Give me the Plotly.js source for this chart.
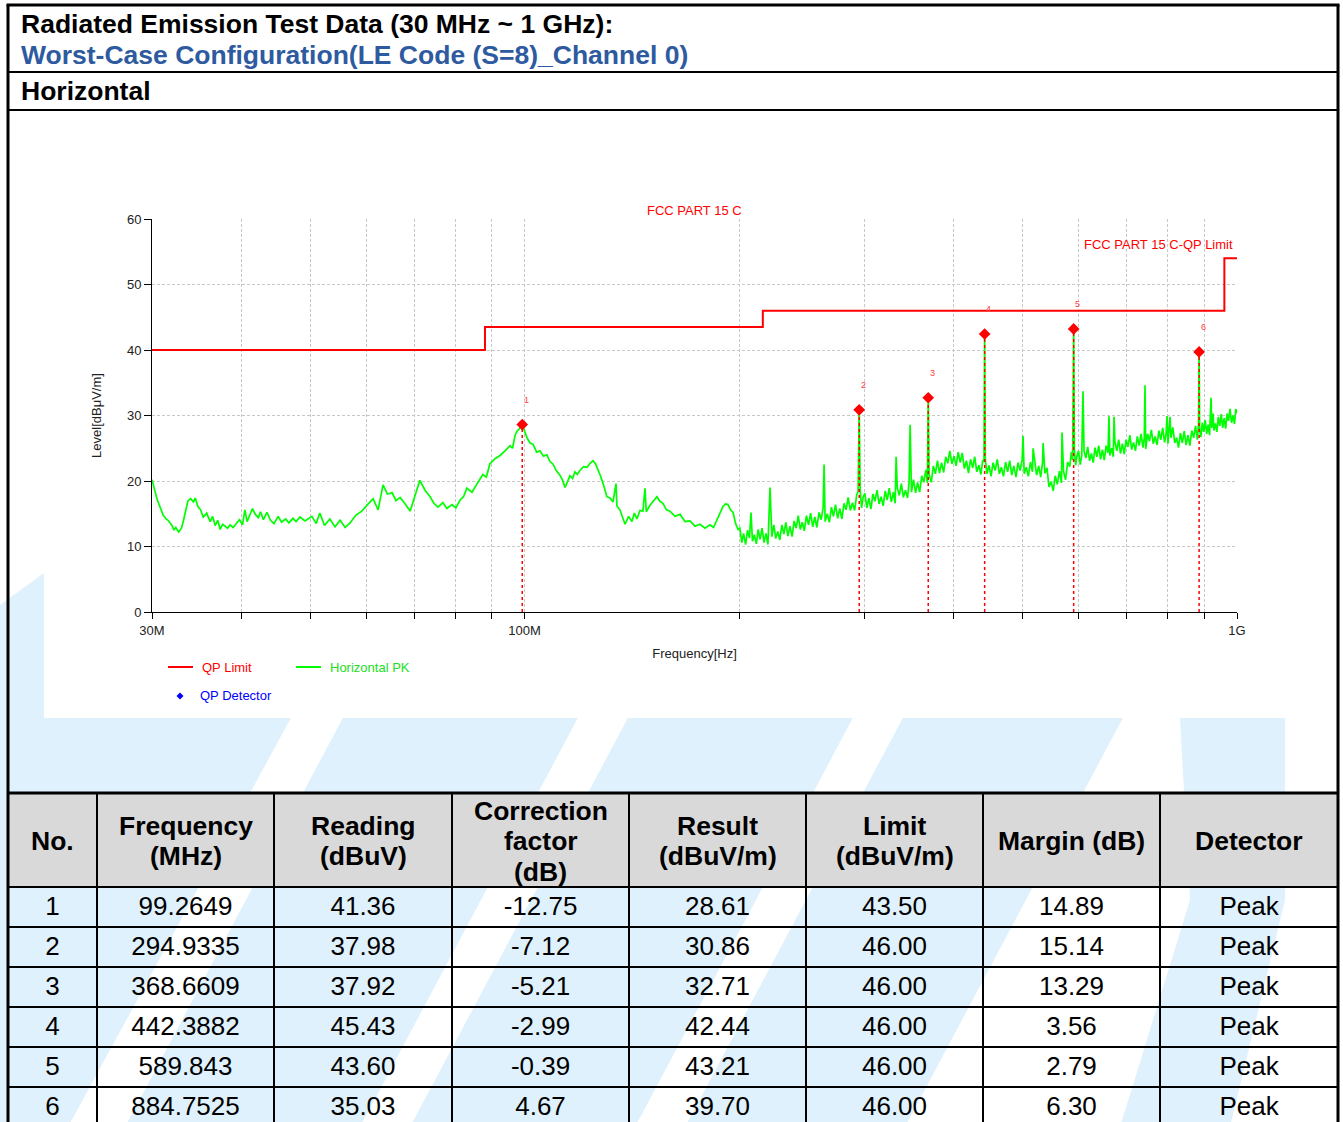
<!DOCTYPE html>
<html><head><meta charset="utf-8">
<script src="https://cdn.plot.ly/plotly-3.0.1.min.js"></script>
<style>html,body{margin:0;padding:0;background:#fff;overflow:hidden}#wrap{width:1343px;height:1122px;overflow:hidden}#chart{width:1343px;height:1127px}</style>
</head><body><div id="wrap"><div id="chart"></div></div>
<script>
// ---------- data ----------
const limitFreq = [30, 88, 216, 960, 1000];
const limitLevel = [40, 43.5, 46, 54, 54];

const pkFreq = [
 30,30.1,30.3,30.5,30.8,31.1,31.4,31.6,31.8,32.0,32.2,32.4,32.7,33.0,33.2,33.4,33.7,34.0,34.3,34.5,34.8,35.1,35.4,35.8,36.2,36.5,36.8,37.1,37.4,37.7,38.0,38.3,38.6,39.0,39.4,39.8,40.2,40.5,40.8,41.2,41.5,41.9,42.3,42.6,43.0,43.5,44.0,44.5,45.1,45.6,46.2,46.7,47.3,47.8,48.4,
 49.2,50.3,51.0,51.6,52.4,53.3,54.2,55.1,56.0,56.9,58.0,59.1,60.2,61.3,62.3,63.3,64.2,65.2,66.0,66.9,68.0,69.1,70.2,71.3,72.5,73.7,74.6,75.6,76.8,77.8,79.1,80.1,81.2,82.1,83.0,84.4,85.8,86.6,87.4,88.4,89.4,90.9,92.4,93.9,95.4,96.2,97.0,97.6,98.4,99.26,
 100.0,100.8,101.8,102.8,104.0,105.1,106.3,107.5,108.5,109.6,110.8,112.1,113.0,114.0,114.9,115.8,116.8,117.7,118.6,119.6,121.0,122.4,123.6,124.8,125.8,126.8,127.8,128.9,129.7,130.5,131.8,133.1,134.4,134.8,136.1,137.2,138.4,140.0,141.5,142.6,143.8,145.2,146.6,147.6,148.2,150.0,151.7,153.4,154.9,156.4,158.2,160.0,162.6,165.3,168.0,170.7,173.5,176.3,179.2,182.1,184.2,186.3,188.1,189.9,191.4,193.0,194.6,196.2,197.8,199.4,
 200.5,201.8,203.0,204.3,205.6,206.9,207.9,208.9,210.2,211.5,212.8,214.1,215.5,216.8,218.2,219.6,221.1,222.4,223.8,225.2,226.7,228.2,229.7,231.2,232.7,234.2,235.8,237.4,239.0,240.6,242.2,243.8,245.4,247.0,248.7,250.4,252.1,253.8,255.5,257.2,259.0,260.8,262.5,263.3,264.2,266.0,267.8,269.6,271.4,273.2,275.1,277.0,278.9,280.8,282.7,284.6,286.6,288.6,290.6,292.6,293.9,294.9335,295.9,297.2,298.8,
 300.4,302.3,304.3,306.3,308.3,310.3,312.4,314.5,316.6,318.7,320.8,322.9,325.0,327.2,329.4,331.3,332.3,333.6,335.8,338.0,340.2,342.5,344.8,346.5,347.7,349.2,351.5,353.9,356.2,358.6,361.0,363.4,365.8,367.6,368.6609,369.8,372.3,374.8,377.3,379.8,382.3,384.9,387.5,390.1,392.7,395.3,398.0,400.7,403.4,406.1,408.8,411.5,414.3,417.1,419.9,422.7,425.6,428.4,431.3,434.2,437.1,439.7,441.5,442.3882,443.4,445.6,448.6,451.6,
 454.6,457.7,460.8,463.9,467.0,470.1,473.3,476.5,479.7,482.9,486.2,489.5,492.8,496.1,499.4,500.8,502.7,506.1,509.5,512.9,516.3,517.4,519.8,523.3,526.8,530.3,533.4,534.4,537.5,541.1,544.7,548.4,552.1,555.8,559.5,563.3,567.0,568.1,570.8,574.6,578.5,582.4,585.5,587.9,589.843,591.2,593.6,596.3,
 599.2,602.5,605.5,607.9,610.0,613.6,617.2,620.9,624.6,628.3,632.0,635.8,639.6,643.4,647.3,651.2,655.1,659.0,661.3,663.0,667.0,670.5,672.1,674.0,678.1,682.2,686.3,690.4,694.6,698.8,703.0,707.3,711.6,715.9,720.2,724.6,729.0,733.4,737.9,741.0,742.8,744.5,749.0,753.6,758.2,762.8,767.5,772.2,776.9,781.7,786.5,791.3,795.5,797.6,800.0,803.6,805.4,807.8,812.8,817.8,822.8,827.8,832.9,838.0,843.1,848.3,853.5,858.7,864.0,869.3,874.6,879.9,883.2,884.7525,
 886.3,889.8,894.0,898.2,902.4,906.6,910.9,915.2,919.6,921.8,925.6,928.2,932.6,937.0,941.4,945.9,950.4,954.9,959.4,964.0,968.6,973.2,977.8,982.5,987.2,991.9,996.0,1000
];
const pkLevel = [
 20.2,19.6,18.4,17.2,16.0,14.8,14.2,14.0,13.6,13.2,12.5,12.9,12.2,12.8,13.9,15.2,17.0,17.3,16.8,17.4,16.1,15.6,14.5,15.1,13.8,14.6,13.2,14.0,12.6,13.4,13.1,12.8,13.3,12.9,13.5,14.1,13.3,15.6,13.8,14.8,15.8,14.9,14.4,15.3,14.1,15.2,14.0,13.5,14.6,13.7,14.2,13.6,14.3,13.8,14.5,
 13.9,14.6,13.5,15.1,13.2,14.2,13.0,14.0,12.9,13.6,14.8,15.4,16.4,17.3,15.6,19.4,18.0,18.2,17.0,17.5,16.5,15.4,17.8,20.1,18.6,17.6,16.6,16.0,16.7,15.8,16.4,15.9,17.1,17.6,18.9,18.3,19.6,20.4,21.0,20.6,22.6,23.4,23.9,24.6,25.4,25.0,27.0,27.6,28.0,28.61,
 27.6,26.6,25.8,25.6,24.4,24.6,23.8,24.0,23.0,22.6,21.6,20.9,20.2,19.0,19.9,20.8,20.4,21.4,21.0,21.6,22.2,22.1,22.7,23.1,22.6,21.8,20.8,19.6,18.5,17.6,17.4,16.8,19.6,16.2,15.6,14.6,13.4,14.6,13.8,15.1,14.2,15.5,15.4,18.9,15.3,16.3,16.9,17.6,16.9,16.6,15.6,15.4,14.6,14.9,13.8,13.9,13.1,13.4,12.8,13.3,12.9,14.2,15.3,16.1,16.5,16.4,15.6,15.2,13.5,12.6,
 12.8,10.6,12.0,10.3,12.5,11.3,15.2,10.8,11.8,10.4,12.6,11.1,12.8,10.6,12.0,10.3,19.0,11.5,13.3,11.2,12.3,11.0,13.3,11.9,13.7,11.6,13.1,11.5,13.9,12.8,14.7,12.6,13.7,12.4,14.7,13.3,15.1,13.0,14.5,12.9,15.2,14.1,15.9,22.5,13.8,15.0,13.7,16.0,14.6,16.4,14.3,15.8,14.2,16.6,15.6,17.5,15.5,16.7,15.5,17.9,18.4,30.86,18.6,15.9,17.6,
 18.1,15.9,17.4,15.7,18.0,16.9,18.6,16.5,17.6,16.2,18.5,17.1,18.9,16.8,18.3,16.6,23.7,18.9,17.8,19.6,17.5,18.6,17.4,19.7,28.6,18.3,20.2,18.2,19.8,18.3,20.8,19.8,21.7,19.7,32.71,20.9,19.8,22.3,21.1,23.1,21.2,22.8,21.3,23.7,22.7,24.6,22.6,23.8,22.3,24.4,22.8,24.3,21.9,23.1,21.2,23.3,22.0,23.7,21.4,22.4,21.0,23.2,23.0,42.44,23.3,21.1,22.4,20.7,
 22.8,21.6,23.3,21.1,22.1,20.7,22.9,21.4,23.1,20.9,22.3,20.6,22.8,21.6,23.3,26.9,21.1,22.1,20.7,22.9,21.4,25.0,23.1,20.9,22.3,20.6,22.8,25.8,21.2,22.0,19.1,19.9,18.5,20.8,19.5,21.5,19.7,27.4,21.5,20.2,22.9,22.2,24.4,23.2,43.21,24.8,22.4,23.9,
 24.6,22.5,23.9,33.7,24.6,23.5,25.2,23.1,24.2,22.8,25.1,23.7,25.4,23.3,24.8,23.2,25.4,24.3,29.9,23.9,25.0,23.7,29.8,26.0,24.6,26.3,24.2,25.7,24.1,26.3,25.2,27.0,24.8,25.9,24.6,26.8,25.4,27.2,25.1,26.5,34.6,24.9,27.2,26.1,27.8,25.7,26.8,25.5,27.7,26.3,28.1,25.9,27.4,29.9,25.7,27.9,29.8,26.6,28.2,25.8,26.6,25.1,27.3,25.8,27.6,25.5,27.0,25.4,27.7,26.6,28.4,26.3,28.9,39.70,
 28.0,26.7,28.9,27.5,29.3,27.2,28.6,27.0,32.7,28.1,30.3,27.7,28.8,27.5,29.8,28.4,30.2,28.1,29.6,28.0,30.3,29.2,31.0,28.9,30.0,28.7,31.0,30.3
];

const markNo = ['1','2','3','4','5','6'];
const markFreq = [99.2649, 294.9335, 368.6609, 442.3882, 589.843, 884.7525];
const markFreqText = ['99.2649','294.9335','368.6609','442.3882','589.843','884.7525'];
const markReading = ['41.36','37.98','37.92','45.43','43.60','35.03'];
const markCorr = ['-12.75','-7.12','-5.21','-2.99','-0.39','4.67'];
const markResult = [28.61, 30.86, 32.71, 42.44, 43.21, 39.70];
const markLimit = ['43.50','46.00','46.00','46.00','46.00','46.00'];
const markMargin = ['14.89','15.14','13.29','3.56','2.79','6.30'];
const markDetector = ['Peak','Peak','Peak','Peak','Peak','Peak'];
const headerText = ['No.', 'Frequency<br>(MHz)', 'Reading<br>(dBuV)', 'Correction<br>factor<br>(dB)',
                    'Result<br>(dBuV/m)', 'Limit<br>(dBuV/m)', 'Margin (dB)', 'Detector'];

const xTickVals = [30,40,50,60,70,80,90,100,200,300,400,500,600,700,800,900,1000];
const xTickText = ['30M','','','','','','','100M','','','','','','','','','1G'];
const yTickVals = [0,10,20,30,40,50,60];

// ---------- helpers (page pixels -> paper) ----------
const W = 1343, H = 1127;
const px = x => x / W;
const py = y => 1 - y / H;
const FONT = 'Arial, "Liberation Sans", sans-serif';
const RED = '#ff0000', GREEN = '#00ff00', BLUE = '#2e5aa0';
const WM = '#dff1fc';
const colWidths = [89,177,178,177,177,177,177,178];
const TABLE_LEFT = 8, HEADER_TOP = 793, HEADER_H = 94, ROW_H = 40;

function poly(pts, color) {
  const d = 'M ' + pts.map(p => px(p[0]).toFixed(5) + ' ' + py(p[1]).toFixed(5)).join(' L ') + ' Z';
  return {type:'path', xref:'paper', yref:'paper', path:d, fillcolor:color, line:{width:0}, layer:'below'};
}
function hline(y, x0, x1, w, color) {
  return {type:'line', xref:'paper', yref:'paper', x0:px(x0), x1:px(x1), y0:py(y), y1:py(y), line:{color:color||'#000', width:w}, layer:'above'};
}
function vline(x, y0, y1, w, color) {
  return {type:'line', xref:'paper', yref:'paper', x0:px(x), x1:px(x), y0:py(y0), y1:py(y1), line:{color:color||'#000', width:w}, layer:'above'};
}
function txt(x, y, text, size, color, anchor, weight) {
  return {xref:'paper', yref:'paper', x:px(x), y:py(y), text:text, showarrow:false,
    xanchor:anchor||'left', yanchor:'middle', font:{family:FONT, size:size, color:color, weight:weight||'normal'}};
}

// ---------- traces ----------
const stemX = [], stemY = [];
markFreq.forEach((f, i) => { stemX.push(f, f, null); stemY.push(0, markResult[i], null); });

const traces = [
  {type:'scatter', mode:'lines', x:pkFreq, y:pkLevel, line:{color:GREEN, width:1.7}, name:'Horizontal PK'},
  {type:'scatter', mode:'lines', x:limitFreq, y:limitLevel, line:{color:RED, width:2, shape:'hv'}, name:'QP Limit'},
  {type:'scatter', mode:'lines', x:stemX, y:stemY, line:{color:RED, width:1.5, dash:'dot'}, name:'stem'},
  {type:'scatter', mode:'markers', x:markFreq, y:markResult, marker:{symbol:'diamond', size:9, color:RED}, name:'QP Detector'},
  {type:'table',
   domain:{x:[px(8), px(1338)], y:[0, py(HEADER_TOP)]},
   columnwidth:colWidths,
   header:{values:headerText.map(() => ''),
     height:HEADER_H, align:'center', fill:{color:'#d9d9d9'}, line:{color:'#000', width:2},
     font:{family:FONT, size:26, color:'#000', weight:'bold'}},
   cells:{values:[markNo, markFreqText, markReading, markCorr, markResult.map(v=>v.toFixed(2)), markLimit, markMargin, markDetector],
     height:ROW_H, align:'center', fill:{color:'rgba(0,0,0,0)'}, line:{color:'#000', width:2},
     font:{family:FONT, size:26, color:'#000'}}
  }
];

// ---------- decorations ----------
const shapes = [
  // watermark bands
  poly([[0,605],[48,570],[377,560],[68,1127],[0,1127]], WM),
  poly([[427,560],[662,560],[360,1127],[125,1127]], WM),
  poly([[712,560],[937,560],[635,1127],[410,1127]], WM),
  poly([[987,560],[1207,560],[905,1127],[685,1127]], WM),
  poly([[1180,718],[1285,718],[1285,900],[1230,1127],[1120,1127],[1190,900]], WM),
  // white chart image area
  {type:'rect', xref:'paper', yref:'paper', x0:px(44), x1:px(1282), y0:py(718), y1:py(110), fillcolor:'#fff', line:{width:0}, layer:'below'},
  // page frame
  hline(5, 6.5, 1339.5, 3), vline(8, 5, 1127, 3), vline(1338, 5, 1127, 3),
  hline(72, 8, 1338, 2), hline(110, 8, 1338, 2), hline(793, 8, 1338, 3),
  // legend samples
  hline(667, 168, 193, 2, RED), hline(667, 296, 321, 2, GREEN),
  {type:'path', xref:'paper', yref:'paper', layer:'above', fillcolor:'#0000ff', line:{width:0},
   path:`M ${px(180)} ${py(692.5)} L ${px(183.5)} ${py(696)} L ${px(180)} ${py(699.5)} L ${px(176.5)} ${py(696)} Z`}
];

const annotations = [
  txt(19, 24, 'Radiated Emission Test Data (30 MHz ~ 1 GHz):', 26.5, '#000', 'left', 'bold'),
  txt(19, 55, 'Worst-Case Configuration(LE Code (S=8)_Channel 0)', 26.5, BLUE, 'left', 'bold'),
  txt(19, 91, 'Horizontal', 26.5, '#000', 'left', 'bold'),
  txt(694, 211, 'FCC PART 15 C', 13, RED, 'center'),
  txt(1235, 245, 'FCC PART 15 C-QP Limit', 13, RED, 'right'),
  txt(200, 667, 'QP Limit', 13, RED, 'left'),
  txt(328, 667, 'Horizontal PK', 13, '#22dd22', 'left'),
  txt(198, 695, 'QP Detector', 13, '#0000ff', 'left')
];
// table header text, one annotation per line, vertically centred in header cells
let colLeft = TABLE_LEFT;
headerText.forEach((h, c) => {
  const lines = h.split('<br>');
  const cx = colLeft + colWidths[c] / 2;
  lines.forEach((ln, i) => {
    const cy = HEADER_TOP + HEADER_H / 2 + 1 + (i - (lines.length - 1) / 2) * 30.5;
    annotations.push(txt(cx, cy, ln, 26.5, '#000', 'center', 'bold'));
  });
  colLeft += colWidths[c];
});
markFreq.forEach((f, i) => {
  annotations.push({xref:'x', yref:'y', x:Math.log10(f), y:markResult[i], text:markNo[i], showarrow:false,
    xshift:4, yshift:25, font:{family:FONT, size:9, color:'#ff4040'}});
});

const axisFont = {family:FONT, size:13, color:'#222'};
const layout = {
  width:W, height:H, margin:{l:0, r:0, t:0, b:0, pad:0},
  paper_bgcolor:'#fff', plot_bgcolor:'rgba(0,0,0,0)',
  showlegend:false, font:{family:FONT},
  xaxis:{type:'log', domain:[px(152), px(1237)], range:[Math.log10(30), Math.log10(1000)],
    tickmode:'array', tickvals:xTickVals, ticktext:xTickText, ticks:'outside', ticklen:6, tickcolor:'#000',
    showline:true, linecolor:'#000', linewidth:1, showgrid:true, gridcolor:'#c8c8c8', griddash:'3px,2px', gridwidth:1,
    zeroline:false, tickfont:axisFont, automargin:false,
    title:{text:'Frequency[Hz]', font:axisFont, standoff:12}},
  yaxis:{domain:[py(612), py(219)], range:[0,60], tickmode:'array', tickvals:yTickVals,
    ticks:'outside', ticklen:7, tickcolor:'#000', showline:true, linecolor:'#000', linewidth:1,
    showgrid:true, gridcolor:'#c8c8c8', griddash:'3px,2px', gridwidth:1, zeroline:false, tickfont:axisFont, automargin:false,
    title:{text:'Level[dBμV/m]', font:axisFont, standoff:22}},
  shapes:shapes, annotations:annotations
};

Plotly.newPlot('chart', traces, layout, {displayModeBar:false, staticPlot:true});
</script></body></html>
